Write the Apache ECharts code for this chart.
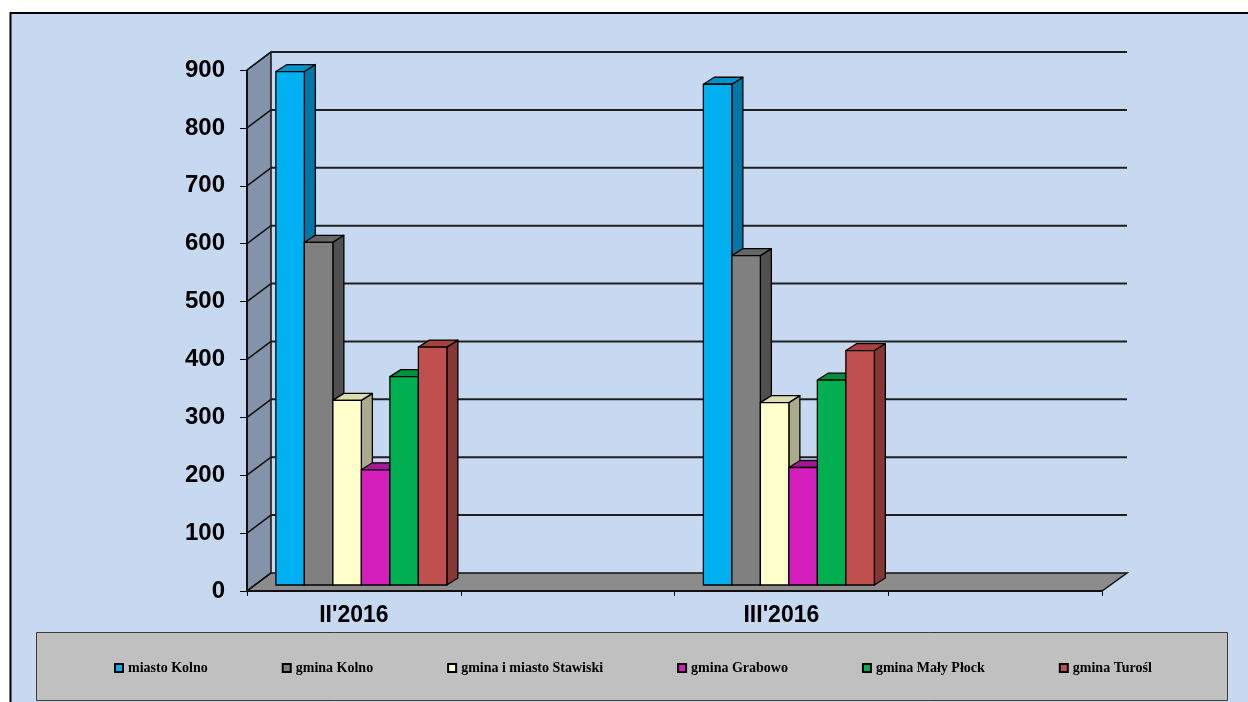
<!DOCTYPE html>
<html>
<head>
<meta charset="utf-8">
<script src="https://cdn.jsdelivr.net/npm/echarts@6/dist/echarts.min.js"></script>
<style>
html,body{margin:0;padding:0;background:#fff;}
#chart{width:1248px;height:702px;}
</style>
</head>
<body>
<div id="chart"></div>
<script>
// ---- data ----
const categories = ["II'2016", "", "III'2016", ""];
const yTicks = [0, 100, 200, 300, 400, 500, 600, 700, 800, 900];
const seriesNames = ["miasto Kolno", "gmina Kolno", "gmina i miasto Stawiski", "gmina Grabowo", "gmina Mały Płock", "gmina Turośl"];
const miastoKolno   = [887, null, 865, null];
const gminaKolno    = [592, null, 569, null];
const stawiski      = [319, null, 315, null];
const grabowo       = [199, null, 203, null];
const malyPlock     = [360, null, 354, null];
const turosl        = [411, null, 405, null];

// ---- styles ----
const frontColors = ["#00B0F0", "#808080", "#FFFFCC", "#D41FBD", "#00B050", "#C0504D"];
const topColors   = ["#0092C8", "#666666", "#DCDCB0", "#A8179A", "#008F40", "#A8423F"];
const sideColors  = ["#0077A6", "#505050", "#ABAB8C", "#8C1480", "#00743A", "#853635"];
const WALL_DX = 24, WALL_DY = -18;
const BAR_SHIFT_X = 7.5, BAR_SHIFT_Y = -6;
const BAR_DX = 11, BAR_DY = -7;

const allValues = [miastoKolno, gminaKolno, stawiski, grabowo, malyPlock, turosl];

function wallsRender(params, api) {
  const cs = params.coordSys;
  const x0 = cs.x, x1 = cs.x + cs.width;
  const y0 = api.coord([0, yTicks[0]])[1];
  const yTop = api.coord([0, yTicks[yTicks.length - 1]])[1];
  const children = [];
  children.push({type: 'polygon', shape: {points: [[x0, y0], [x0, yTop], [x0 + WALL_DX, yTop + WALL_DY], [x0 + WALL_DX, y0 + WALL_DY]]},
    style: {fill: '#8393A9', stroke: '#111', lineWidth: 1.5}});
  children.push({type: 'polygon', shape: {points: [[x0, y0], [x1, y0], [x1 + WALL_DX + 1, y0 + WALL_DY], [x0 + WALL_DX, y0 + WALL_DY]]},
    style: {fill: '#8C8C8C', stroke: '#111', lineWidth: 1.5}});
  yTicks.forEach(function (v) {
    const y = api.coord([0, v])[1];
    if (v !== yTicks[0]) {
      children.push({type: 'line', shape: {x1: x0 + WALL_DX, y1: y + WALL_DY, x2: x1 + WALL_DX + 1, y2: y + WALL_DY},
        style: {stroke: '#1E1E1E', lineWidth: 2}});
    }
    children.push({type: 'line', shape: {x1: x0, y1: y, x2: x0 + WALL_DX, y2: y + WALL_DY},
      style: {stroke: '#111', lineWidth: 1.5}});
  });
  children.push({type: 'line', shape: {x1: x0, y1: y0, x2: x0, y2: yTop}, style: {stroke: '#111', lineWidth: 2}});
  children.push({type: 'line', shape: {x1: x0, y1: y0, x2: x1, y2: y0}, style: {stroke: '#111', lineWidth: 2}});
  return {type: 'group', children: children};
}

function barRender(i) {
  return function (params, api) {
    const val = api.value(1);
    if (val == null || isNaN(val)) return;
    const cat = api.value(0);
    const base = api.coord([cat, 0]);
    const tp = api.coord([cat, val]);
    const band = api.size([1, 0])[0];
    const bw = band * 0.8 / 6;
    const xl = base[0] - 3 * bw + BAR_SHIFT_X + i * bw;
    const xr = xl + bw;
    const yb = base[1] + BAR_SHIFT_Y;
    const yt = tp[1] + BAR_SHIFT_Y;
    const st = {stroke: '#000', lineWidth: 1.3, lineJoin: 'round'};
    return {type: 'group', children: [
      {type: 'polygon', shape: {points: [[xr, yt], [xr + BAR_DX, yt + BAR_DY], [xr + BAR_DX, yb + BAR_DY], [xr, yb]]},
        style: Object.assign({fill: sideColors[i]}, st)},
      {type: 'polygon', shape: {points: [[xl, yt], [xl + BAR_DX, yt + BAR_DY], [xr + BAR_DX, yt + BAR_DY], [xr, yt]]},
        style: Object.assign({fill: topColors[i]}, st)},
      {type: 'rect', shape: {x: xl, y: yt, width: bw, height: yb - yt},
        style: Object.assign({fill: frontColors[i]}, st)}
    ]};
  };
}

const series = [{
  type: 'custom', name: '_walls', silent: true, z: 1,
  data: [[0, 0]], encode: {x: 0, y: 1},
  renderItem: wallsRender
}];
seriesNames.forEach(function (name, i) {
  series.push({
    type: 'custom', name: name, z: 2 + i,
    itemStyle: {color: frontColors[i], borderColor: '#000', borderWidth: 1},
    encode: {x: 0, y: 1},
    data: allValues[i].map(function (v, k) { return [k, v]; }),
    renderItem: barRender(i)
  });
});

const chart = echarts.init(document.getElementById('chart'));
chart.setOption({
  backgroundColor: '#ffffff',
  animation: false,
  graphic: [
    {type: 'rect', z: -10, shape: {x: 10.5, y: 13, width: 1260, height: 720}, style: {fill: '#C6D9F1', stroke: '#000', lineWidth: 2}},
    {type: 'rect', z: -5, shape: {x: 36.5, y: 632.5, width: 1191, height: 68}, style: {fill: '#C0C0C0', stroke: '#3A3A3A', lineWidth: 1}}
  ],
  grid: {left: 247, right: 146, top: 70, bottom: 111},
  xAxis: {
    type: 'category', data: categories, boundaryGap: true,
    axisLine: {show: false},
    axisTick: {show: true, length: 5, lineStyle: {color: '#000', width: 1}, interval: 0},
    axisLabel: {interval: 0, margin: 13, fontFamily: 'Liberation Sans, Arial, sans-serif', fontWeight: 'bold', fontSize: 23, color: '#000'},
    splitLine: {show: false}
  },
  yAxis: {
    type: 'value', min: yTicks[0], max: yTicks[yTicks.length - 1], interval: yTicks[1] - yTicks[0],
    axisLine: {show: false},
    axisTick: {show: true, length: 7, lineStyle: {color: '#000', width: 1}},
    axisLabel: {margin: 22, fontFamily: 'Liberation Sans, Arial, sans-serif', fontWeight: 'bold', fontSize: 24, color: '#000'},
    splitLine: {show: false}
  },
  legend: {
    data: seriesNames, left: 109, top: 656, orient: 'horizontal',
    icon: 'rect', itemWidth: 8, itemHeight: 8, itemGap: 74,
    textStyle: {fontFamily: 'Liberation Serif, Times New Roman, serif', fontWeight: 'bold', fontSize: 14, color: '#000'},
    selectedMode: false
  },
  series: series
});
</script>
</body>
</html>
